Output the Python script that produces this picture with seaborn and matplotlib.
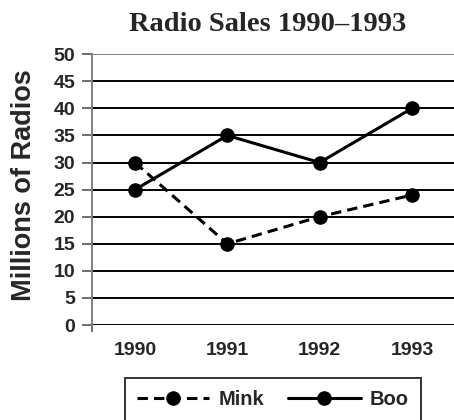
import numpy as np
import pandas as pd
import seaborn as sns
import matplotlib.pyplot as plt

years = [1990, 1991, 1992, 1993]
mink = [30, 15, 20, 24]
boo = [25, 35, 30, 40]
yTicks = list(range(0, 55, 5))

df = pd.DataFrame({
    "Year": years * 2,
    "Sales": mink + boo,
    "Brand": ["Mink"] * 4 + ["Boo"] * 4,
})

sns.set_theme(style="white")
plt.rcParams['font.family'] = ['Liberation Sans', 'DejaVu Sans']

fig = plt.figure(figsize=(4.54, 4.2), dpi=100)
ax = fig.add_axes([0.2026, 0.226, 0.7974, 0.645])

# gridlines (top one is lighter, like the plot-area border)
for y in yTicks:
    ax.axhline(y, color='#808080' if y == 50 else 'black', linewidth=1.4, zorder=1)

sns.lineplot(
    data=df, x="Year", y="Sales", hue="Brand", style="Brand",
    palette={"Mink": "black", "Boo": "black"},
    dashes={"Mink": (3.4, 2.0), "Boo": ""},
    markers={"Mink": "o", "Boo": "o"},
    markersize=10.5, markeredgewidth=0, linewidth=2.2,
    sort=False, ax=ax, zorder=3,
)

xmin = 1989.534
ax.set_xlim(xmin, 1993.455)
ax.set_ylim(0, 50)
ax.set_yticks(yTicks)
ax.set_xticks(years)
ax.set_xticklabels([str(y) for y in years], fontweight='bold', fontsize=14)
ax.set_yticklabels([str(y) for y in yTicks], fontweight='bold', fontsize=14)
ax.set_xticks([xmin], minor=True)
ax.tick_params(axis='x', which='major', length=0, pad=12)
ax.tick_params(axis='x', which='minor', length=5, width=1.2, color='#555555', bottom=True)
ax.tick_params(axis='y', length=7, width=1.2, color='#555555', pad=5, left=True)

for s in ['top', 'right', 'bottom']:
    ax.spines[s].set_visible(False)
ax.spines['left'].set_color('#808080')
ax.spines['left'].set_linewidth(1.4)

ax.set_xlabel('')
ax.set_ylabel('Millions of Radios', fontweight='bold', fontsize=19.5)
ax.yaxis.set_label_coords(-0.152, 0.515)
ax.set_title('Radio Sales 1990\u20131993', fontfamily='Liberation Serif',
             fontweight='bold', fontsize=20.5, pad=17, x=0.485)

leg = ax.legend(loc='upper center', bbox_to_anchor=(0.499, -0.196), ncol=2,
                frameon=True, fancybox=False, edgecolor='black',
                prop={'weight': 'bold', 'size': 14.5}, handlelength=3.6,
                handletextpad=0.45, columnspacing=1.2, borderpad=0.6,
                borderaxespad=0)
leg.get_frame().set_linewidth(1.4)

fig.savefig('out.png', dpi=100)
